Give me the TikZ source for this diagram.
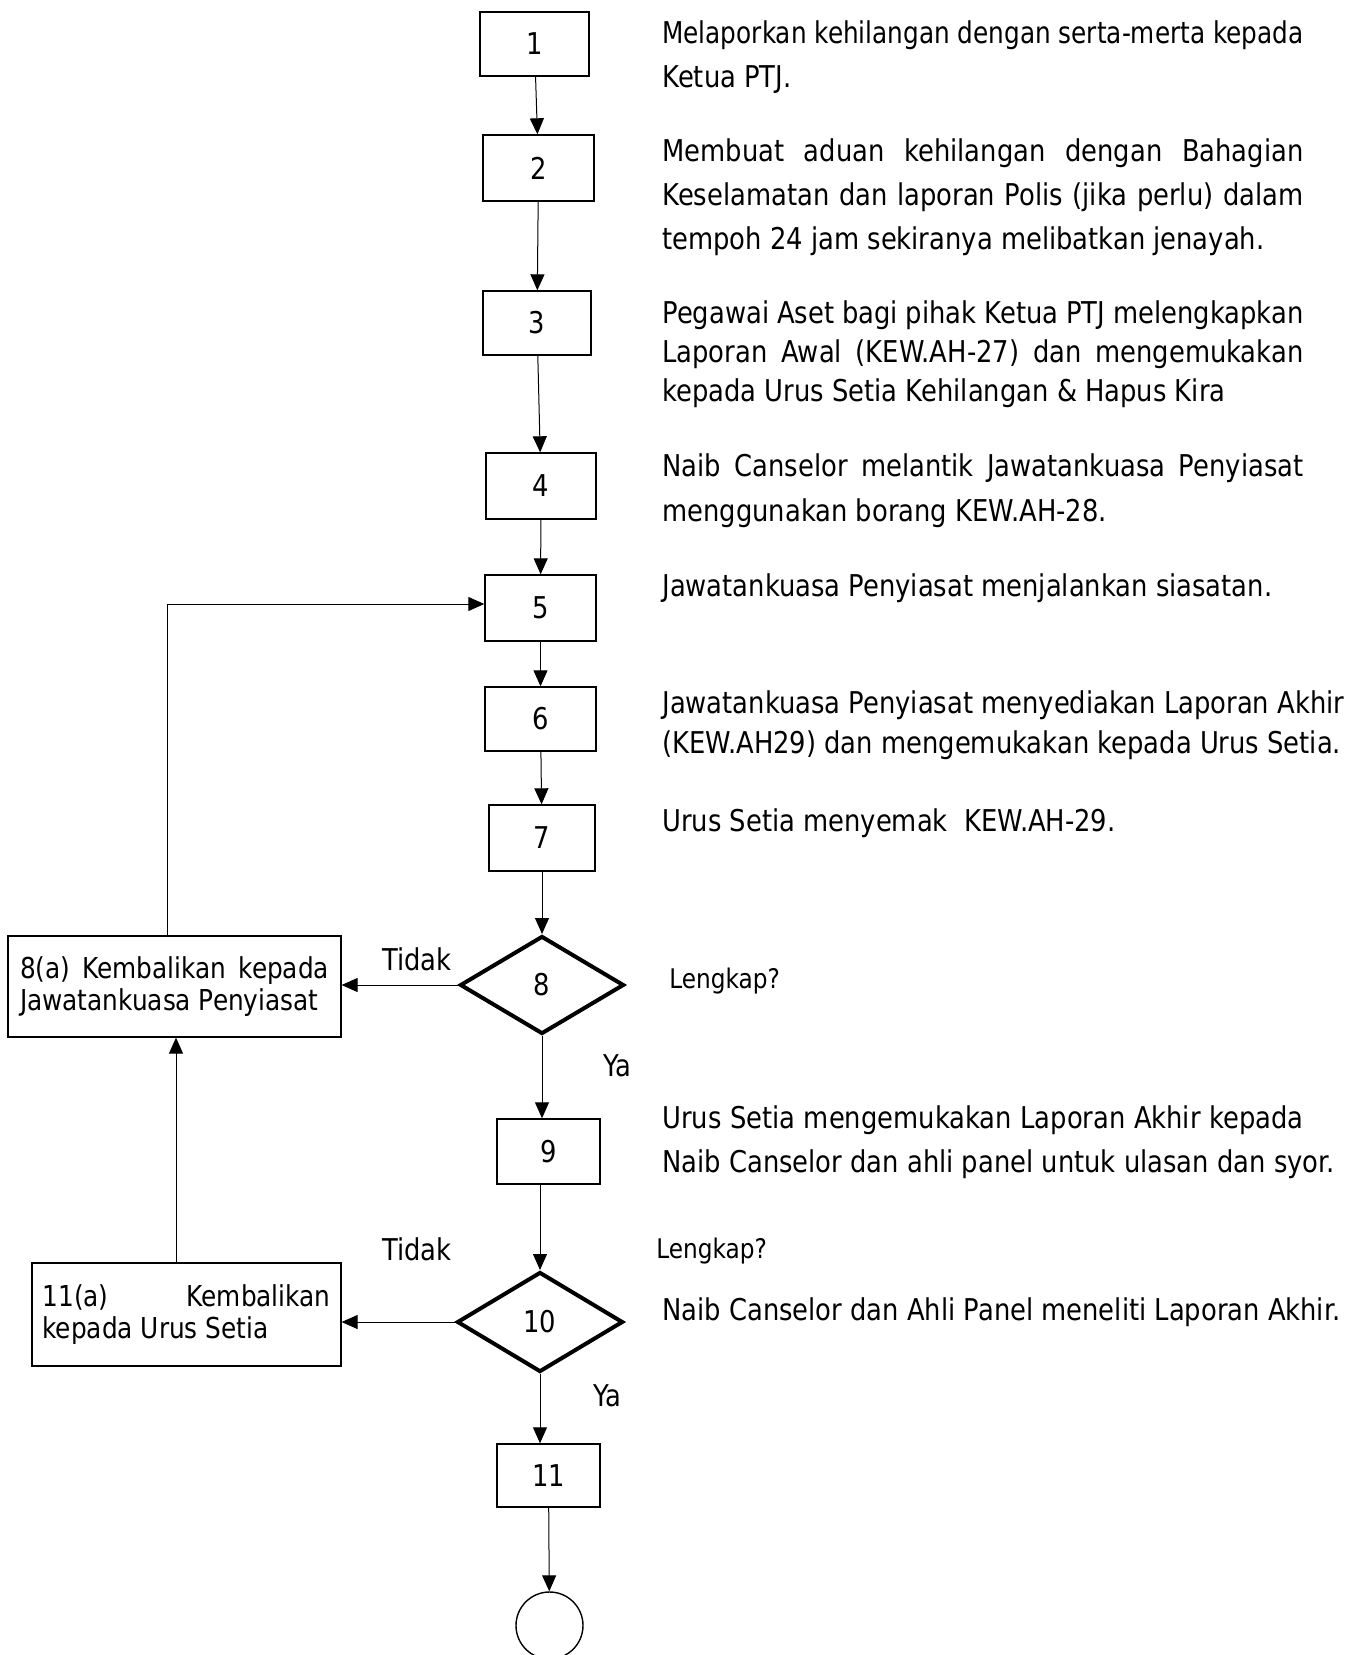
\documentclass[tikz,border=0pt]{standalone}
\usepackage{graphicx}
\usepackage{fontspec}
\setmainfont{DejaVu Sans}[FakeStretch=0.86]
\usetikzlibrary{shapes.geometric,arrows.meta}
\newcommand{\jline}[2][320.5pt]{\makebox[#1][s]{#2}}
\newcommand{\fline}[1]{\resizebox{320.5pt}{\height}{#1}}

\begin{document}
\begin{tikzpicture}[x=0.5pt,y=-0.5pt,
    stepbox/.style 2 args={draw,line width=0.7pt,inner sep=0pt,minimum width=#1,minimum height=#2,font=\fontsize{15}{18}\selectfont},
    decision/.style={diamond,draw,line width=2pt,inner sep=0pt,minimum width=82pt,minimum height=49pt,font=\fontsize{15}{18}\selectfont},
    backbox/.style={draw,line width=0.6pt,inner sep=0pt,align=left,font=\fontsize{14.4}{16}\selectfont},
    desc/.style={anchor=base west,inner sep=0pt,align=left},
    arr/.style={-{Triangle[length=8pt,width=7pt]},line width=0.5pt}]
    \providecommand{\descfont}{\fontsize{15}{22}\selectfont}
    \providecommand{\askfont}{\fontsize{13.5}{16}\selectfont}
    \useasboundingbox (0,0) rectangle (1355,1655);
    % main column
    \node[stepbox={54.5pt}{32pt}] (b1) at (534.5,44) {1};
    \node[stepbox={55.5pt}{33pt}] (b2) at (538.5,168) {2};
    \node[stepbox={54pt}{32pt}] (b3) at (537,323) {3};
    \node[stepbox={55pt}{33pt}] (b4) at (541,486) {4};
    \node[stepbox={55.5pt}{33pt}] (b5) at (540.5,608) {5};
    \node[stepbox={55.5pt}{32pt}] (b6) at (540.5,719) {6};
    \node[stepbox={53pt}{33pt}] (b7) at (542,838) {7};
    \node[decision] (d8) at (542,985) {8};
    \node[stepbox={51.5pt}{32.5pt}] (b9) at (548.5,1151.5) {9};
    \node[decision,minimum width=83pt,minimum height=50pt] (d10) at (540,1322) {10};
    \node[stepbox={51.5pt}{31.5pt}] (b11) at (548.5,1475.5) {11};
    \node[circle,draw,line width=0.7pt,inner sep=0pt,minimum size=33.5pt] (end) at (549.5,1625.5) {};
    % return boxes
    \node[backbox,minimum width=166.5pt,minimum height=50.5pt] (b8a) at (174.5,986.5)
        {\jline[154.5pt]{8(a) Kembalikan kepada}\\Jawatankuasa Penyiasat};
    \node[backbox,minimum width=154.5pt,minimum height=51.5pt] (b11a) at (186.5,1314.5)
        {\jline[144pt]{11(a) Kembalikan}\\kepada Urus Setia};
    \draw[arr] (b1) -- (b2);
    \draw[arr] (b2) -- (b3);
    \draw[arr] (b3) -- (b4);
    \draw[arr] (b4) -- (b5);
    \draw[arr] (b5) -- (b6);
    \draw[arr] (b6) -- (b7);
    \draw[arr] (b7) -- (d8);
    \draw[arr] (d8.south) -- (d8.south |- b9.north);
    \draw[arr] (b9.south -| d10.north) -- (d10.north);
    \draw[arr] (d10.south) -- (d10.south |- b11.north);
    \draw[arr] (b11) -- (end);
    \draw[arr] (d8.west) -- (d8.west -| b8a.east);
    \draw[arr] (d10.west) -- (d10.west -| b11a.east);
    \draw[arr] ([xshift=-3.75pt]b8a.north) |- ([yshift=2pt]b5.west);
    \draw[arr] ([xshift=-5.25pt]b11a.north) -- ([xshift=-5.25pt]b11a.north |- b8a.south);
    % branch labels
    \node[desc,font=\descfont] (no8) at (382,970) {Tidak};
    \node[desc,font=\descfont] (yes8) at (603,1076) {Ya};
    \node[desc,font=\descfont] (no10) at (382,1260) {Tidak};
    \node[desc,font=\descfont] (yes10) at (593,1406) {Ya};
    \node[desc,font=\askfont] (q8) at (669,988) {Lengkap?};
    \node[desc,font=\askfont] (q10) at (656,1258) {Lengkap?};
    % descriptions (base = last line)
    \node[desc,font=\descfont] (t1) at (662,87)
        {\fline{Melaporkan kehilangan dengan serta-merta kepada}\\Ketua PTJ.};
    \node[desc,font=\descfont] (t2) at (662,249)
        {\jline{Membuat aduan kehilangan dengan Bahagian}\\\jline{Keselamatan dan laporan Polis (jika perlu) dalam}\\tempoh 24 jam sekiranya melibatkan jenayah.};
    \node[desc,font=\fontsize{15}{19.5}\selectfont] (t3) at (662,401)
        {\jline{Pegawai Aset bagi pihak Ketua PTJ melengkapkan}\\\jline{Laporan Awal (KEW.AH-27) dan mengemukakan}\\kepada Urus Setia Kehilangan \& Hapus Kira};
    \node[desc,font=\fontsize{15}{22.5}\selectfont] (t4) at (662,521)
        {\jline{Naib Canselor melantik Jawatankuasa Penyiasat}\\menggunakan borang KEW.AH-28.};
    \node[desc,font=\descfont] (t5) at (662,596) {Jawatankuasa Penyiasat menjalankan siasatan.};
    \node[desc,font=\fontsize{15}{20}\selectfont] (t6) at (662,753)
        {Jawatankuasa Penyiasat menyediakan Laporan Akhir\\(KEW.AH29) dan mengemukakan kepada Urus Setia.};
    \node[desc,font=\descfont] (t7) at (662,831) {Urus Setia menyemak \ KEW.AH-29.};
    \node[desc,font=\descfont] (t9) at (662,1172)
        {\jline{Urus Setia mengemukakan Laporan Akhir kepada}\\Naib Canselor dan ahli panel untuk ulasan dan syor.};
    \node[desc,font=\descfont] (t10) at (662,1320) {Naib Canselor dan Ahli Panel meneliti Laporan Akhir.};
\end{tikzpicture}
\end{document}
